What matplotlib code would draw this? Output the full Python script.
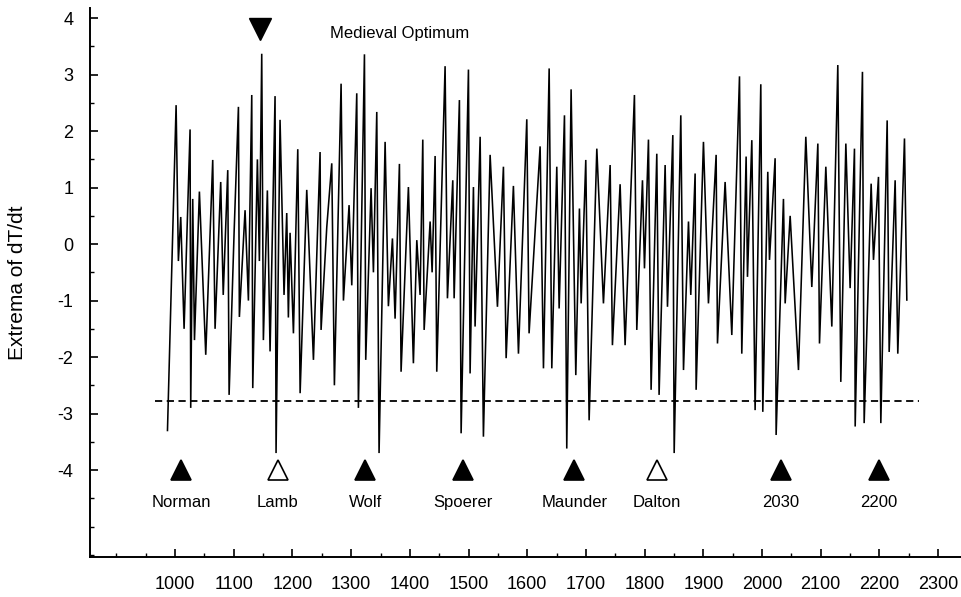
import matplotlib

matplotlib.use("Agg")
import matplotlib.pyplot as plt
from matplotlib.ticker import MultipleLocator

plt.rcParams["font.family"] = ["Liberation Sans", "DejaVu Sans"]
plt.rcParams["axes.unicode_minus"] = False

# turning points of dT/dt (year, value), read century by century
years = [
    987, 1001.7, 1005.6, 1009.6, 1015.3, 1025.5, 1026.6, 1030, 1033, 1041.4,
    1052.2, 1064.1, 1068.1, 1077.7, 1082, 1089.7, 1092, 1100.5, 1107.9, 1109.5,
    1119.2, 1124.9, 1130.6, 1132.3, 1140.2, 1143.6, 1147.6, 1150.4, 1157.2, 1161.8,
    1170.3, 1172, 1178.8, 1185.6, 1190.2, 1193, 1195.9, 1201.6, 1209, 1213,
    1224.3, 1235.7, 1247, 1248.7, 1258.4, 1266.9, 1271.4, 1282.8, 1286.8, 1296.4,
    1301, 1309.5, 1312.3, 1322.6, 1324.8, 1333.9, 1337.9, 1343.6, 1347.5, 1357.8,
    1363.4, 1370.3, 1374.8, 1382.2, 1385, 1397.5, 1406, 1411.8, 1417.4, 1422,
    1424.3, 1434.5, 1437.9, 1443, 1445.8, 1460, 1464, 1473.1, 1475.4, 1484.4,
    1487.3, 1499.8, 1502.6, 1508.3, 1511.1, 1519.7, 1525.3, 1536.7, 1549.2, 1559.4,
    1564, 1576.4, 1585, 1599.2, 1603.1, 1621.9, 1627.6, 1637.3, 1641.8, 1650.3,
    1654.3, 1663.4, 1667.3, 1674.7, 1682.7, 1688.9, 1691.8, 1699.7, 1705.4, 1718.5,
    1729.8, 1741.2, 1745.1, 1758.2, 1766.7, 1782.6, 1786.6, 1796.3, 1799.7, 1806.5,
    1811, 1820.7, 1824.6, 1834.9, 1838.9, 1848, 1850.3, 1861.6, 1866.2, 1874.7,
    1878.6, 1886, 1887.7, 1900.2, 1908.7, 1921.8, 1924.1, 1937.1, 1948.5, 1961.6,
    1965.5, 1972.9, 1975.2, 1982.6, 1988.2, 1997.9, 2001.3, 2009.8, 2012.7, 2022.3,
    2024, 2036.5, 2039.4, 2047.9, 2062.1, 2074.6, 2084.8, 2095.1, 2097.9, 2108.7,
    2118.9, 2129.1, 2134.2, 2142.8, 2150.1, 2157.5, 2158.7, 2171.1, 2174, 2185.9,
    2189.9, 2198.4, 2202.4, 2213.2, 2216.6, 2226.8, 2231.3, 2242.7, 2246.7,
]
dtdt = [
    -3.3, 2.46, -0.3, 0.48, -1.5, 2.03, -2.9, 0.8, -1.7, 0.93,
    -1.96, 1.49, -1.5, 1.1, -0.9, 1.31, -2.67, 0.2, 2.43, -1.29,
    0.6, -1.0, 2.64, -2.55, 1.5, -0.3, 3.37, -1.7, 0.95, -1.9,
    2.62, -3.7, 2.2, -0.9, 0.55, -1.3, 0.2, -1.58, 1.68, -2.64,
    0.96, -2.05, 1.63, -1.52, 0.3, 1.43, -2.5, 2.84, -1.0, 0.69,
    -0.73, 2.67, -2.9, 3.36, -2.05, 0.99, -0.5, 2.34, -3.7, 1.81,
    -1.1, 0.1, -1.32, 1.42, -2.26, 1.01, -2.11, 0.07, -0.9, 1.85,
    -1.52, 0.4, -0.5, 1.56, -2.26, 3.15, -0.96, 1.13, -0.96, 2.55,
    -3.35, 3.09, -2.29, 1.01, -1.46, 1.9, -3.41, 1.58, -1.11, 1.37,
    -2.02, 1.03, -1.94, 2.21, -1.58, 1.73, -2.2, 3.11, -2.2, 1.37,
    -1.14, 2.28, -3.62, 2.74, -2.32, 0.63, -1.05, 1.49, -3.12, 1.69,
    -1.05, 1.4, -1.79, 1.06, -1.79, 2.64, -1.52, 1.13, -0.43, 1.85,
    -2.58, 1.6, -2.67, 1.4, -1.11, 1.93, -3.7, 2.28, -2.23, 0.4,
    -0.9, 1.25, -2.58, 1.81, -1.05, 1.58, -1.76, 1.1, -1.61, 2.97,
    -1.94, 1.55, -0.58, 1.84, -2.94, 2.83, -2.97, 1.28, -0.28, 1.52,
    -3.38, 0.8, -1.05, 0.5, -2.23, 1.9, -0.76, 1.78, -1.76, 1.37,
    -1.46, 3.17, -2.44, 1.78, -0.78, 1.69, -3.23, 3.05, -3.17, 1.07,
    -0.28, 1.19, -3.17, 2.19, -1.91, 1.13, -1.94, 1.87, -0.99,
]

threshold = -2.78
threshold_span = [966, 2268]

minima_names = ["Norman", "Lamb", "Wolf", "Spoerer", "Maunder", "Dalton", "2030", "2200"]
minima_years = [1010, 1175, 1324, 1491, 1680, 1821, 2032, 2199]
minima_filled = [True, False, True, True, True, False, True, True]
marker_level = -4.0
label_level = -4.58

optimum_year = 1145
optimum_level = 3.8

x_ticks = list(range(1000, 2301, 100))
y_ticks = [4, 3, 2, 1, 0, -1, -2, -3, -4]
y_tick_labels = ["4", "3", "2", "1", "0", "-1", "-2", "-3", "-4"]

fig = plt.figure(figsize=(9.61, 5.97), dpi=100)
ax = fig.add_axes([90 / 961, 40 / 597, 871 / 961, 549 / 597])

ax.plot(years, dtdt, color="black", linewidth=1.15, solid_joinstyle="miter")
ax.plot(threshold_span, [threshold, threshold], color="black",
        linewidth=1.3, linestyle=(0, (4, 2.5)))

for name, yr, filled in zip(minima_names, minima_years, minima_filled):
    ax.plot(yr, marker_level, marker="^", markersize=15,
            markerfacecolor="black" if filled else "white",
            markeredgecolor="black", markeredgewidth=1.2)
    ax.text(yr, label_level, name, ha="center", va="center", fontsize=12)

ax.plot(optimum_year, optimum_level, marker="v", markersize=16, color="black")
ax.text(1264, 3.72, "Medieval Optimum", ha="left", va="center", fontsize=12)

ax.set_xlim(855, 2339)
ax.set_ylim(-5.54, 4.18)

ax.set_xticks(x_ticks)
ax.xaxis.set_minor_locator(MultipleLocator(50))
ax.set_yticks(y_ticks)
ax.set_yticklabels(y_tick_labels)
ax.yaxis.set_minor_locator(MultipleLocator(0.5))

ax.tick_params(axis="both", which="major", direction="in", length=6,
               width=1.2, labelsize=13)
ax.tick_params(axis="both", which="minor", direction="in", length=3, width=1.0)
ax.tick_params(axis="x", which="major", pad=14)
ax.tick_params(axis="y", which="major", pad=12)

ax.set_ylabel("Extrema of dT/dt", fontsize=15, labelpad=22)

for side in ("top", "right"):
    ax.spines[side].set_visible(False)
for side in ("left", "bottom"):
    ax.spines[side].set_linewidth(1.4)

fig.savefig("out.png", dpi=100)
